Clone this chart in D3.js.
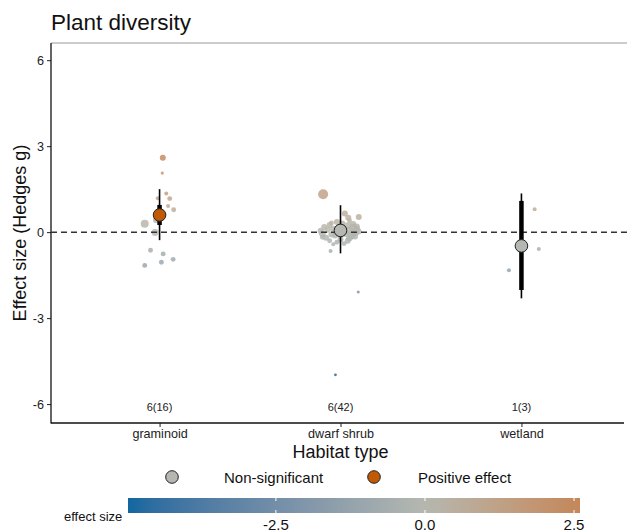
<!DOCTYPE html>
<html>
<head>
<meta charset="utf-8">
<script src="https://cdn.jsdelivr.net/npm/d3@7"></script>
<style>
body { margin: 0; background: #fff; }
svg { font-family: "Liberation Sans", Arial, sans-serif; display: block; }
</style>
</head>
<body>
<svg id="chart" width="627" height="532"></svg>
<script>
// categories and summary values
var categories = ["graminoid", "dwarf shrub", "wetland"];
var counts = ["6(16)", "6(42)", "1(3)"];
var meanEffect = [0.60, 0.06, -0.48];
var ciLow = [-0.28, -0.74, -2.31];
var ciHigh = [1.50, 0.94, 1.35];
var seLow = [0.25, -0.06, -2.02];
var seHigh = [0.95, 0.20, 1.09];
var significance = ["Positive effect", "Non-significant", "Non-significant"];
var yTicks = [-6, -3, 0, 3, 6];
var legendLabels = ["Non-significant", "Positive effect"];
var colorTicks = [-2.5, 0, 2.5];

// individual studies: [effect, jitter (category units), weight]
var graminoidStudies = [
  [2.60, 0.018, 9], [2.06, 0.015, 2.5], [1.35, 0.037, 4], [1.18, -0.010, 4],
  [1.17, 0.056, 6], [0.91, 0.047, 4], [0.78, 0.078, 6], [0.29, -0.082, 16],
  [0.42, -0.020, 9], [-0.01, -0.025, 12], [-0.63, -0.050, 6], [-0.76, 0.020, 6],
  [-0.95, 0.075, 6], [-1.16, -0.082, 6], [-1.05, 0.010, 6], [0.55, 0.000, 4]
];
var shrubStudies = [
  [1.32, -0.096, 25], [0.65, 0.024, 9], [0.50, 0.043, 9], [0.53, 0.101, 9],
  [-0.66, -0.055, 4], [-2.09, 0.098, 2.5], [-4.98, -0.028, 2],
  [0.25, -0.06, 9], [0.18, -0.09, 9], [0.05, -0.11, 9], [-0.05, -0.10, 12],
  [-0.20, -0.08, 9], [-0.30, -0.06, 6], [0.35, -0.02, 9], [0.30, 0.01, 9],
  [0.22, 0.04, 12], [0.15, 0.07, 16], [0.10, 0.09, 12], [0.00, 0.08, 16],
  [-0.10, 0.06, 16], [-0.20, 0.05, 12], [-0.15, 0.08, 9], [0.05, 0.05, 16],
  [-0.05, 0.03, 12], [0.12, -0.04, 9], [-0.12, -0.03, 9], [-0.35, -0.02, 6],
  [-0.40, 0.02, 6], [0.20, 0.09, 9], [0.08, -0.07, 9], [-0.25, 0.00, 9],
  [0.28, 0.07, 9], [-0.08, -0.05, 9], [0.02, 0.10, 9], [-0.30, 0.04, 9],
  [0.15, -0.01, 9], [0.40, 0.05, 6], [-0.18, -0.10, 6], [0.10, 0.02, 9],
  [-0.02, -0.02, 9], [0.32, -0.05, 6], [-0.42, -0.04, 4]
];
var wetlandStudies = [
  [0.80, 0.073, 4], [-0.59, 0.096, 4], [-1.33, -0.069, 4]
];
var studies = [graminoidStudies, shrubStudies, wetlandStudies];

var svg = d3.select("#chart");
var pLeft = 51, pTop = 43, pBottom = 423, pRight = 630;
var fmt = function(v) { return String(v); };

var x = d3.scalePoint().domain(categories).range([pLeft, pRight]).padding(0.6);
var step = x.step();
var y = d3.scaleLinear().domain([-6.66, 6.6]).range([pBottom, pTop]);
var r = d3.scaleSqrt().domain([0, 25]).range([0, 5]);

var allEffects = [];
studies.forEach(function(s) { s.forEach(function(d) { allEffects.push(d[0]); }); });
var effMin = d3.min(allEffects), effMax = d3.max(allEffects);
var color = d3.scaleLinear()
    .domain([effMin, 0, effMax])
    .range(["#12679f", "#b5b8b0", "#c4875a"])
    .interpolate(d3.interpolateLab);
var sigFill = { "Non-significant": "#b5b8b2", "Positive effect": "#c05a06" };

// title
svg.append("text").attr("x", 51).attr("y", 30)
    .attr("font-size", 22.5).attr("fill", "#111").text("Plant diversity");

// panel border top
svg.append("line").attr("x1", pLeft).attr("x2", 627).attr("y1", pTop).attr("y2", pTop)
    .attr("stroke", "#999").attr("stroke-width", 1.2);

// axes
var yAxis = svg.append("g").attr("transform", "translate(" + pLeft + ",0)")
    .call(d3.axisLeft(y).tickValues(yTicks).tickFormat(fmt).tickSize(4).tickPadding(3));
var xAxis = svg.append("g").attr("transform", "translate(0," + pBottom + ")")
    .call(d3.axisBottom(x).tickSize(4).tickPadding(2));
[yAxis, xAxis].forEach(function(a) {
    a.select(".domain").remove();
    a.selectAll("line").attr("stroke", "#222");
    a.selectAll("text").attr("fill", "#222").attr("font-size", 12.6)
        .attr("font-family", "Liberation Sans, Arial, sans-serif");
});
svg.append("line").attr("x1", pLeft).attr("x2", pLeft).attr("y1", pTop).attr("y2", pBottom + 0.5)
    .attr("stroke", "#111").attr("stroke-width", 1.3);
svg.append("line").attr("x1", pLeft).attr("x2", 624).attr("y1", pBottom).attr("y2", pBottom)
    .attr("stroke", "#111").attr("stroke-width", 1.3);

// axis titles
svg.append("text").attr("x", (pLeft + pRight) / 2).attr("y", 458).attr("text-anchor", "middle")
    .attr("font-size", 18).attr("fill", "#111").text("Habitat type");
svg.append("text").attr("transform", "translate(26," + ((pTop + pBottom) / 2) + ") rotate(-90)")
    .attr("text-anchor", "middle").attr("font-size", 18).attr("fill", "#111")
    .text("Effect size (Hedges g)");

// study points
var pts = [];
studies.forEach(function(s, i) {
    s.forEach(function(d) { pts.push({ cat: categories[i], eff: d[0], jit: d[1], w: d[2] }); });
});
svg.append("g").selectAll("circle").data(pts).enter().append("circle")
    .attr("cx", function(d) { return x(d.cat) + d.jit * step; })
    .attr("cy", function(d) { return y(d.eff); })
    .attr("r", function(d) { return r(d.w); })
    .attr("fill", function(d) { return color(d.eff); })
    .attr("fill-opacity", 0.82);

// zero line
svg.append("line").attr("x1", pLeft).attr("x2", 627).attr("y1", y(0)).attr("y2", y(0))
    .attr("stroke", "#333").attr("stroke-width", 1.5).attr("stroke-dasharray", "6,4");

// error bars and means
var summary = categories.map(function(c, i) {
    return { cat: c, mean: meanEffect[i], lo: ciLow[i], hi: ciHigh[i],
             slo: seLow[i], shi: seHigh[i], sig: significance[i], n: counts[i] };
});
var g = svg.append("g");
g.selectAll(".ci").data(summary).enter().append("line")
    .attr("x1", function(d) { return x(d.cat); }).attr("x2", function(d) { return x(d.cat); })
    .attr("y1", function(d) { return y(d.lo); }).attr("y2", function(d) { return y(d.hi); })
    .attr("stroke", "#000").attr("stroke-width", 1.6);
g.selectAll(".se").data(summary).enter().append("line")
    .attr("x1", function(d) { return x(d.cat); }).attr("x2", function(d) { return x(d.cat); })
    .attr("y1", function(d) { return y(d.slo); }).attr("y2", function(d) { return y(d.shi); })
    .attr("stroke", "#000").attr("stroke-width", 4.5);
g.selectAll(".mean").data(summary).enter().append("circle")
    .attr("cx", function(d) { return x(d.cat); })
    .attr("cy", function(d) { return y(d.mean); })
    .attr("r", 6.3)
    .attr("fill", function(d) { return sigFill[d.sig]; })
    .attr("stroke", "#222").attr("stroke-width", 1);
g.selectAll(".count").data(summary).enter().append("text")
    .attr("x", function(d) { return x(d.cat); }).attr("y", 411)
    .attr("text-anchor", "middle").attr("font-size", 11).attr("fill", "#222")
    .text(function(d) { return d.n; });

// legend
var legX = [172, 374];
legendLabels.forEach(function(l, i) {
    svg.append("circle").attr("cx", legX[i]).attr("cy", 477).attr("r", 6.3)
        .attr("fill", sigFill[l]).attr("stroke", "#222").attr("stroke-width", 1);
    svg.append("text").attr("x", legX[i] + 52 - i * 8).attr("y", 482.5)
        .attr("font-size", 15).attr("fill", "#111").text(l);
});

// colorbar
var cbLeft = 128, cbRight = 580;
var cb = d3.scaleLinear().domain([effMin, effMax]).range([cbLeft, cbRight]);
var grad = svg.append("defs").append("linearGradient").attr("id", "cbar");
d3.range(0, 1.0001, 0.05).forEach(function(t) {
    grad.append("stop").attr("offset", t)
        .attr("stop-color", color(effMin + t * (effMax - effMin)));
});
svg.append("rect").attr("x", cbLeft).attr("y", 498).attr("width", cbRight - cbLeft).attr("height", 15)
    .attr("fill", "url(#cbar)");
colorTicks.forEach(function(t) {
    svg.append("line").attr("x1", cb(t)).attr("x2", cb(t)).attr("y1", 498).attr("y2", 501)
        .attr("stroke", "#fff").attr("stroke-width", 1);
    svg.append("line").attr("x1", cb(t)).attr("x2", cb(t)).attr("y1", 510).attr("y2", 513)
        .attr("stroke", "#fff").attr("stroke-width", 1);
    svg.append("text").attr("x", cb(t)).attr("y", 530).attr("text-anchor", "middle")
        .attr("font-size", 15).attr("fill", "#111").text(d3.format(".1f")(t).replace("\u2212", "-"));
});
svg.append("text").attr("x", 64).attr("y", 521).attr("font-size", 13).attr("fill", "#111")
    .text("effect size");
</script>
</body>
</html>
